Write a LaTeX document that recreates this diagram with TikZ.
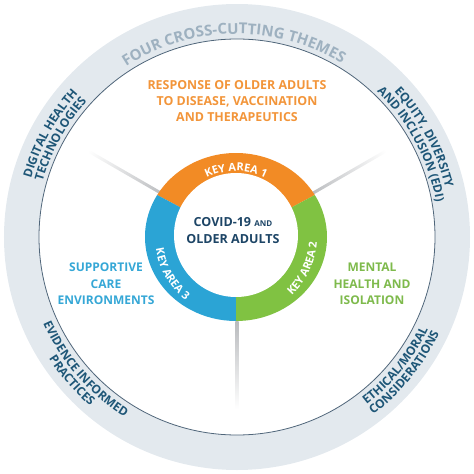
\documentclass[tikz,border=0pt]{standalone}
\usepackage{fontspec}
\setmainfont{Open Sans}
\usetikzlibrary{arrows, positioning, decorations.text}

\definecolor{areaorange}{HTML}{F28B25}
\definecolor{areagreen}{HTML}{80C242}
\definecolor{areablue}{HTML}{2BA4D5}
\definecolor{txtorange}{HTML}{F2953A}
\definecolor{txtgreen}{HTML}{7EBA4C}
\definecolor{txtblue}{HTML}{35A7D6}
\definecolor{navy}{HTML}{1D4566}
\definecolor{themeblue}{HTML}{1E5677}
\definecolor{themegray}{HTML}{9EB1C0}
\definecolor{ringfill}{HTML}{E3E9EE}
\definecolor{ringline}{HTML}{50667A}
\definecolor{spoke}{HTML}{B9BBBE}

\newcommand{\themefont}{\fontsize{12}{14}\selectfont\bfseries}
\newcommand{\titlefont}{\fontsize{15}{18}\selectfont\bfseries}
\newcommand{\areafont}{\fontsize{11}{13}\selectfont\bfseries}

\pgfdeclareradialshading{discshade}{\pgfpoint{8bp}{8bp}}{color(0bp)=(white); color(38bp)=(white); color(72bp)=(black!22)}

\begin{document}
\begin{tikzpicture}[x=1pt, y=1pt]
    \tikzstyle{label}=[font=\fontsize{12.4}{16}\selectfont\bfseries, align=center]
    \tikzstyle{side}=[font=\fontsize{12}{16.5}\selectfont\bfseries, align=center]
    \tikzstyle{curved}=[decorate, decoration={text along path, text align=center}]

    \useasboundingbox (-237,-237) rectangle (237,237);

    % cross-cutting ring
    \fill[ringfill, even odd rule] (0,0) circle (233) (0,0) circle (198);
    \draw[ringline, line width=0.8] (0,0) circle (198);

    \foreach \a in {30,150,270}
        \shade[transform canvas={rotate=\a}, left color=spoke, right color=white] (84,-1.5) rectangle (172,1.5);

    % key areas
    \coordinate (K) at (-1,0);
    \fill[areaorange] (K) -- ++(30:91 and 84) arc[start angle=30, end angle=150, x radius=91, y radius=84] -- cycle;
    \fill[areagreen] (K) -- ++(-90:91 and 84) arc[start angle=-90, end angle=30, x radius=91, y radius=84] -- cycle;
    \fill[areablue] (K) -- ++(150:91 and 84) arc[start angle=150, end angle=270, x radius=91, y radius=84] -- cycle;
    \node[circle, minimum size=124, inner sep=0, shading=discshade] (hub) at (-1,2) {};

    \node[label, text=navy, font=\fontsize{12.5}{17}\selectfont\bfseries] (covid) at (-4,6) {COVID-19 {\fontsize{8}{10}\selectfont AND}\\OLDER ADULTS};
    \node[label, text=txtorange] (resp) at (0,136) {RESPONSE OF OLDER ADULTS\\TO DISEASE, VACCINATION\\AND THERAPEUTICS};
    \node[side, text=txtblue] (care) at (-131,-47) {SUPPORTIVE\\CARE\\ENVIRONMENTS};
    \node[side, text=txtgreen] (mental) at (135,-47) {MENTAL\\HEALTH AND\\ISOLATION};

    \path[curved, decoration={text color=white, text={|\areafont|KEY AREA 1}}] (K) ++(150:66) arc[start angle=150, end angle=30, radius=66];
    \path[curved, decoration={text color=white, text={|\areafont|KEY AREA 2}}] (K) ++(-85:81) arc[start angle=-85, end angle=35, radius=81];
    \path[curved, decoration={text color=white, text={|\areafont|KEY AREA 3}}] (K) ++(150:81) arc[start angle=150, end angle=270, radius=81];

    \path[curved, decoration={text color=themegray, text={|\titlefont|FOUR CROSS-CUTTING THEMES}}] (171:203) arc[start angle=171, end angle=11, radius=203];
    \path[curved, decoration={text color=themeblue, text={|\themefont|DIGITAL HEALTH}}] (221:214) arc[start angle=221, end angle=81, radius=214];
    \path[curved, decoration={text color=themeblue, text={|\themefont|TECHNOLOGIES}}] (221:202) arc[start angle=221, end angle=81, radius=202];
    \path[curved, decoration={text color=themeblue, text={|\themefont|EQUITY, DIVERSITY}}] (98:214) arc[start angle=98, end angle=-42, radius=214];
    \path[curved, decoration={text color=themeblue, text={|\themefont|AND INCLUSION (EDI)}}] (98:202) arc[start angle=98, end angle=-42, radius=202];
    \path[curved, decoration={text color=themeblue, text={|\themefont|EVIDENCE INFORMED}}] (151:212) arc[start angle=151, end angle=291, radius=212];
    \path[curved, decoration={text color=themeblue, text={|\themefont|PRACTICES}}] (151:224) arc[start angle=151, end angle=291, radius=224];
    \path[curved, decoration={text color=themeblue, text={|\themefont|ETHICAL/MORAL}}] (251:212) arc[start angle=251, end angle=391, radius=212];
    \path[curved, decoration={text color=themeblue, text={|\themefont|CONSIDERATIONS}}] (251:224) arc[start angle=251, end angle=391, radius=224];
\end{tikzpicture}
\end{document}
